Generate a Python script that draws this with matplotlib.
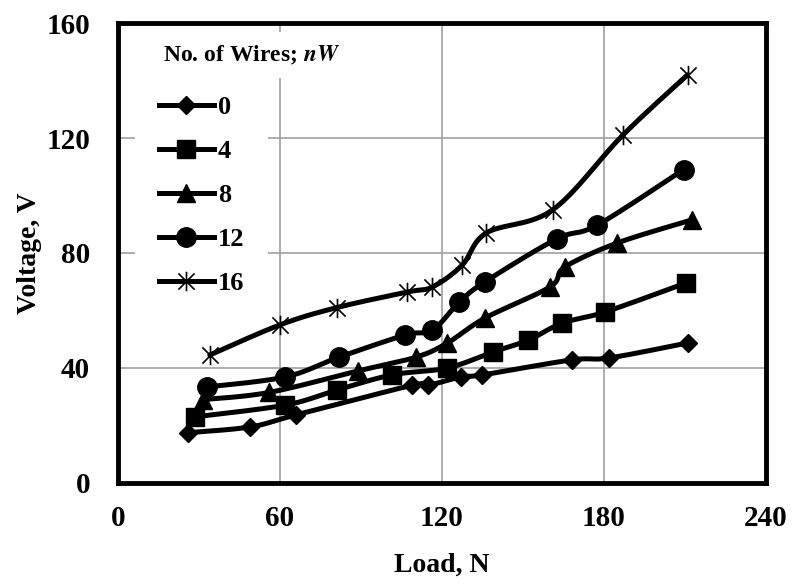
import numpy as np
import matplotlib
matplotlib.use('Agg')
import matplotlib.pyplot as plt
from matplotlib.lines import Line2D
from matplotlib.path import Path

# Load (N) and voltage (V) for each number of wires
load_0 = [26, 49, 66, 109, 115, 127, 135, 168, 182, 211]
volt_0 = [17.5, 19.5, 23.7, 34, 34, 36.9, 37.6, 42.8, 43.5, 48.7]

load_4 = [28.5, 62, 81, 101.5, 122, 139, 152, 164.5, 180.5, 210.5]
volt_4 = [23, 27.1, 32.3, 37.6, 40, 45.6, 49.7, 55.6, 59.5, 69.6]

load_8 = [31.5, 56, 89, 110.5, 122, 136, 160, 165.5, 185, 212.5]
volt_8 = [29, 31.5, 39, 43.8, 48.7, 57.4, 68.2, 75.1, 83.5, 91.5]

load_12 = [33, 62, 82, 106.5, 116.5, 126.5, 136, 162.5, 177.5, 209.5]
volt_12 = [33.4, 36.9, 43.8, 51.5, 53.2, 63, 70, 84.9, 89.7, 109]

load_16 = [34, 60, 81, 107, 116.5, 127.5, 136.5, 161, 187, 211]
volt_16 = [44.5, 55, 61, 66.4, 68.2, 75.8, 87, 95, 121, 142]

wires = ['0', '4', '8', '12', '16']
loads = [load_0, load_4, load_8, load_12, load_16]
volts = [volt_0, volt_4, volt_8, volt_12, volt_16]

# asterisk: an X with a vertical stroke through it
star = Path([(-0.5, -0.5), (0.5, 0.5), (-0.5, 0.5), (0.5, -0.5), (0, -0.6), (0, 0.6)],
            [Path.MOVETO, Path.LINETO, Path.MOVETO, Path.LINETO, Path.MOVETO, Path.LINETO])

markers = ['D', 's', '^', 'o', star]
msizes = [9.5, 12.5, 13, 14, 14]

plt.rcParams['font.family'] = ['Liberation Serif', 'DejaVu Serif']
plt.rcParams['font.weight'] = 'bold'
plt.rcParams['mathtext.fontset'] = 'stix'


def smooth(x, y, n=20):
    # smoothed line through the points (cubic bezier, catmull-rom style)
    x = np.asarray(x, float)
    y = np.asarray(y, float)
    px, py = [], []
    for i in range(len(x) - 1):
        i0 = max(i - 1, 0)
        i3 = min(i + 2, len(x) - 1)
        c1x = x[i] + (x[i + 1] - x[i0]) / 6
        c1y = y[i] + (y[i + 1] - y[i0]) / 6
        c2x = x[i + 1] - (x[i3] - x[i]) / 6
        c2y = y[i + 1] - (y[i3] - y[i]) / 6
        t = np.linspace(0, 1, n)
        b0 = (1 - t) ** 3
        b1 = 3 * (1 - t) ** 2 * t
        b2 = 3 * (1 - t) * t ** 2
        b3 = t ** 3
        px.extend(b0 * x[i] + b1 * c1x + b2 * c2x + b3 * x[i + 1])
        py.extend(b0 * y[i] + b1 * c1y + b2 * c2y + b3 * y[i + 1])
    return px, py


fig = plt.figure(figsize=(7.94, 5.87), dpi=100)
ax = fig.add_axes([0.1486, 0.1772, 0.816, 0.7836])

lw = 3.6
handles = []
for lab, xs, ys, m, ms in zip(wires, loads, volts, markers, msizes):
    sx, sy = smooth(xs, ys)
    ax.plot(sx, sy, color='black', lw=lw, solid_capstyle='round', zorder=3)
    if m is star:
        ax.plot(xs, ys, ls='none', marker=m, ms=ms, color='black', mew=1.2, zorder=4)
        h = Line2D([], [], color='black', lw=lw, marker=m, ms=ms, mew=1.2)
    else:
        ax.plot(xs, ys, ls='none', marker=m, ms=ms, color='black', mec='black', zorder=4)
        h = Line2D([], [], color='black', lw=lw, marker=m, ms=ms)
    handles.append(h)

ax.set_xlim(0, 240)
ax.set_ylim(0, 160)
ax.set_xticks([0, 60, 120, 180, 240])
ax.set_yticks([0, 40, 80, 120, 160])
ax.grid(True, color='#a0a0a0', lw=1.2)
ax.set_axisbelow(True)
ax.tick_params(length=0, labelsize=21)
ax.tick_params(axis='x', pad=16)
ax.tick_params(axis='y', pad=20)
for s in ax.spines.values():
    s.set_linewidth(3.5)
    s.set_color('black')

ax.set_xlabel('Load, N', fontsize=20, fontweight='bold')
ax.set_ylabel('Voltage, V', fontsize=20, fontweight='bold')
ax.xaxis.set_label_coords(0.5, -0.151)
ax.yaxis.set_label_coords(-0.118, 0.5)

ax.text(163 / 794, 1 - 55 / 587, 'No. of Wires; $\\mathit{nW}$', transform=fig.transFigure,
        fontsize=17, fontweight='bold', va='center', ha='left',
        bbox=dict(facecolor='white', edgecolor='none', pad=8), zorder=6)

leg = ax.legend(handles, wires, loc='upper left', bbox_to_anchor=(135 / 794, 1 - 72 / 587),
                bbox_transform=fig.transFigure, frameon=True, fancybox=False,
                prop={'size': 19, 'weight': 'bold'}, handlelength=2.1,
                handletextpad=0.15, labelspacing=0.78, borderpad=0.9, borderaxespad=0)
leg.get_frame().set_facecolor('white')
leg.get_frame().set_edgecolor('none')
leg.get_frame().set_alpha(1)
leg.set_zorder(5)

fig.savefig('out.png', dpi=100)
